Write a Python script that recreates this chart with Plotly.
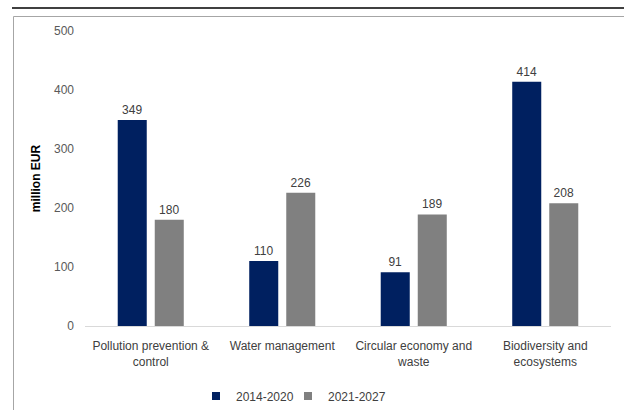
import plotly.graph_objects as go

# Environmental spending by area, two programming periods
categories = [
    "Pollution prevention &<br>control",
    "Water management",
    "Circular economy and<br>waste",
    "Biodiversity and<br>ecosystems",
]
period_2014_2020 = [349, 110, 91, 414]
period_2021_2027 = [180, 226, 189, 208]
series_names = ["2014-2020", "2021-2027"]
y_ticks = [0, 100, 200, 300, 400, 500]

FONT = "Liberation Sans, Arial, sans-serif"
NAVY = "#002060"
GREY = "#808080"

W, H = 624, 410
ML, MR, MT, MB = 85, 13, 31, 84
plot_w = W - ML - MR
plot_h = H - MT - MB


def px_to_paper_x(px):
    return (px - ML) / plot_w


def py_to_paper_y(py):
    return (H - MB - py) / plot_h


series = [
    (series_names[0], period_2014_2020, NAVY, "legend", 196),
    (series_names[1], period_2021_2027, GREY, "legend2", 288),
]

fig = go.Figure()
for name, values, color, legend_id, _ in series:
    fig.add_trace(
        go.Bar(
            name=name,
            x=categories,
            y=values,
            marker=dict(color=color, line=dict(width=0)),
            text=[str(v) for v in values],
            textposition="outside",
            textfont=dict(family=FONT, size=12, color="#404040"),
            cliponaxis=False,
            showlegend=False,
        )
    )
    # small square legend key for the series
    fig.add_trace(
        go.Scatter(
            name=name,
            x=[None],
            y=[None],
            mode="markers",
            marker=dict(symbol="square", size=8, color=color),
            showlegend=True,
            legend=legend_id,
        )
    )


def legend_box(px_left):
    return dict(
        orientation="h",
        x=px_to_paper_x(px_left),
        xanchor="left",
        y=py_to_paper_y(396),
        yanchor="middle",
        font=dict(family=FONT, size=12, color="#404040"),
        itemwidth=30,
        bgcolor="rgba(0,0,0,0)",
    )


fig.update_layout(
    width=W,
    height=H,
    margin=dict(l=ML, r=MR, t=MT, b=MB, autoexpand=False),
    paper_bgcolor="white",
    plot_bgcolor="white",
    barmode="group",
    bargap=0.437,
    bargroupgap=0.216,
    font=dict(family=FONT, color="#404040"),
    showlegend=True,
    legend=legend_box(series[0][4]),
    legend2=legend_box(series[1][4]),
    xaxis=dict(
        showline=True,
        linecolor="#D9D9D9",
        linewidth=1,
        ticks="",
        ticklabelstandoff=9,
        tickfont=dict(family=FONT, size=12, color="#404040"),
        showgrid=False,
        zeroline=False,
        automargin=False,
    ),
    yaxis=dict(
        range=[0, 500],
        tickvals=y_ticks,
        showgrid=False,
        zeroline=False,
        showline=False,
        ticks="",
        ticklabelstandoff=10,
        tickfont=dict(family=FONT, size=12, color="#595959"),
        automargin=False,
        title=dict(
            text="<b>million EUR</b>",
            font=dict(family=FONT, size=12, color="#000000"),
            standoff=10,
        ),
    ),
    shapes=[
        # frame around the chart
        dict(
            type="rect",
            xref="paper",
            yref="paper",
            x0=px_to_paper_x(13.5),
            x1=px_to_paper_x(640),
            y0=py_to_paper_y(430),
            y1=py_to_paper_y(16.5),
            line=dict(color="#A6A6A6", width=1),
            fillcolor="rgba(0,0,0,0)",
            layer="below",
        ),
        # rule above the frame
        dict(
            type="line",
            xref="paper",
            yref="paper",
            x0=px_to_paper_x(12),
            x1=px_to_paper_x(640),
            y0=py_to_paper_y(8),
            y1=py_to_paper_y(8),
            line=dict(color="#000000", width=1.5),
        ),
    ],
)

fig.write_html("out.html")
